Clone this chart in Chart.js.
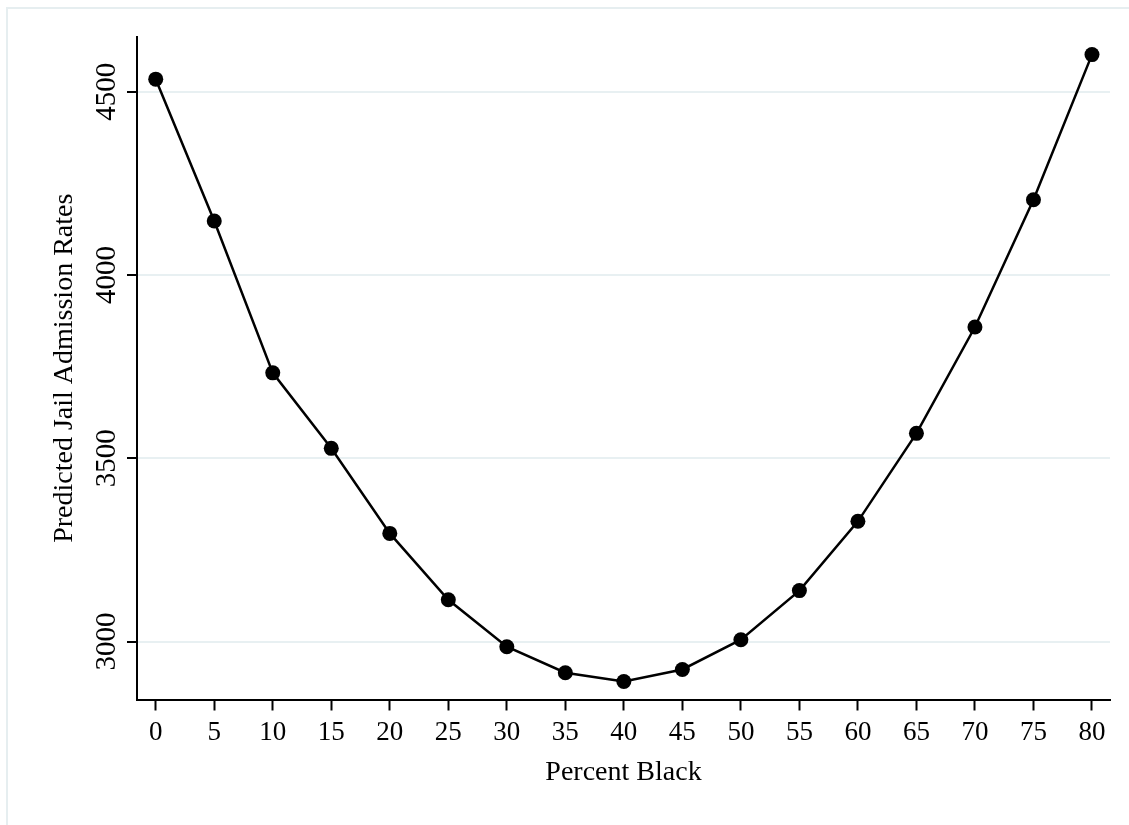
<!DOCTYPE html>
<html>
<head>
<meta charset="utf-8">
<title>Predicted Jail Admission Rates</title>
<script src="https://cdn.jsdelivr.net/npm/chart.js@4.4.1/dist/chart.umd.min.js"></script>
<style>
  html, body { margin: 0; padding: 0; background: #fff; }
  canvas { display: block; }
</style>
</head>
<body>
<canvas id="grafico" width="1129" height="825"></canvas>
<script>
// ===== Dados =====
const percentBlack = [0, 5, 10, 15, 20, 25, 30, 35, 40, 45, 50, 55, 60, 65, 70, 75, 80];
const predictedRates = [4534, 4147, 3733, 3527, 3295, 3114, 2986, 2915, 2891, 2924, 3005, 3139, 3328, 3568, 3858, 4205, 4601];
const xTicks = [0, 5, 10, 15, 20, 25, 30, 35, 40, 45, 50, 55, 60, 65, 70, 75, 80];
const yTicks = [3000, 3500, 4000, 4500];

const serif = "'Liberation Serif', 'Times New Roman', serif";

// ===== Moldura externa + rótulos do eixo Y (girados) =====
const stataPlugin = {
  id: 'stata',
  beforeDraw(chart) {
    const ctx = chart.ctx;
    ctx.save();
    ctx.fillStyle = '#fff';
    ctx.fillRect(0, 0, chart.width, chart.height);
    ctx.strokeStyle = '#e6eef0';
    ctx.lineWidth = 2;
    ctx.strokeRect(7, 8, chart.width + 20, chart.height + 20);
    ctx.restore();
  },
  afterDraw(chart) {
    const ctx = chart.ctx;
    const y = chart.scales.y;
    ctx.save();
    ctx.fillStyle = '#000';
    ctx.font = '29px ' + serif;
    ctx.textAlign = 'center';
    ctx.textBaseline = 'middle';
    y.ticks.forEach(t => {
      const py = y.getPixelForValue(t.value);
      ctx.save();
      ctx.translate(107, py);
      ctx.rotate(-Math.PI / 2);
      ctx.fillText(String(t.value), 0, 0);
      ctx.restore();
    });
    ctx.restore();
  }
};

const points = percentBlack.map((x, i) => ({ x: x, y: predictedRates[i] }));

new Chart(document.getElementById('grafico').getContext('2d'), {
  type: 'line',
  data: {
    datasets: [{
      data: points,
      borderColor: '#000',
      backgroundColor: '#000',
      borderWidth: 2.5,
      pointRadius: 7.5,
      pointBackgroundColor: '#000',
      pointBorderWidth: 0,
      tension: 0,
      clip: false
    }]
  },
  options: {
    responsive: false,
    animation: false,
    devicePixelRatio: 1,
    layout: { padding: { top: 37, right: 19, left: 0, bottom: 0 } },
    plugins: {
      legend: { display: false },
      tooltip: { enabled: false }
    },
    scales: {
      x: {
        type: 'linear',
        min: -1.6,
        max: 81.54,
        afterBuildTicks: s => { s.ticks = xTicks.map(v => ({ value: v })); },
        afterFit: s => { s.height = 125.5; },
        grid: {
          drawOnChartArea: false,
          drawTicks: true,
          tickLength: 11,
          tickColor: '#000',
          tickWidth: 2
        },
        border: { color: '#000', width: 2 },
        ticks: {
          color: '#000',
          font: { family: serif, size: 27 },
          padding: 6,
          maxRotation: 0,
          autoSkip: false
        },
        title: {
          display: true,
          text: 'Percent Black',
          color: '#000',
          font: { family: serif, size: 28 },
          padding: { top: 0, bottom: 36 }
        }
      },
      y: {
        type: 'linear',
        min: 2842,
        max: 4649,
        afterBuildTicks: s => { s.ticks = yTicks.map(v => ({ value: v })); },
        afterFit: s => { s.width = 137; },
        grid: {
          color: '#e8f0f2',
          lineWidth: 2,
          drawTicks: true,
          tickLength: 10,
          tickColor: '#000',
          tickWidth: 2
        },
        border: { color: '#000', width: 2 },
        ticks: { display: false },
        title: {
          display: true,
          text: 'Predicted Jail Admission Rates',
          color: '#000',
          font: { family: serif, size: 28 },
          padding: { top: 48, bottom: 0 }
        }
      }
    }
  },
  plugins: [stataPlugin]
});
</script>
</body>
</html>
